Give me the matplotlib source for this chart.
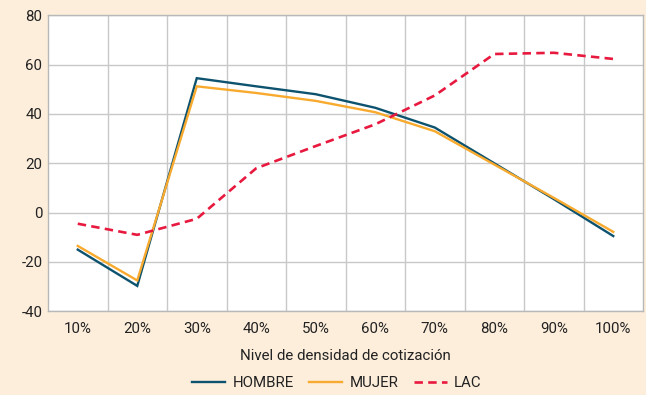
import matplotlib
matplotlib.use("Agg")
import matplotlib.pyplot as plt
from matplotlib import font_manager

categories = ["10%", "20%", "30%", "40%", "50%", "60%", "70%", "80%", "90%", "100%"]
hombre = [-15.0, -29.7, 54.5, 51.2, 48.0, 42.5, 34.5, 20.0, 5.5, -9.5]
mujer = [-13.5, -27.5, 51.2, 48.5, 45.3, 40.7, 33.0, 19.5, 6.0, -7.8]
lac = [-4.5, -9.0, -2.5, 18.0, 27.0, 35.8, 47.5, 64.3, 64.8, 62.3]
y_ticks = [-40, -20, 0, 20, 40, 60, 80]

names = {f.name for f in font_manager.fontManager.ttflist}
fam = [f for f in ["Liberation Sans Narrow", "Roboto", "DejaVu Sans"] if f in names]
plt.rcParams['font.family'] = fam

FS = 10.8
BG = "#fdeedc"
fig = plt.figure(figsize=(6.46, 3.95), dpi=100, facecolor=BG)
ax = fig.add_axes([0.0743, 0.2119, 0.9211, 0.7494])
ax.set_facecolor("white")

x = list(range(len(categories)))
l1, = ax.plot(x, hombre, color="#0d526e", lw=1.7, label="HOMBRE", solid_joinstyle="miter")
l2, = ax.plot(x, mujer, color="#f8aa2e", lw=1.7, label="MUJER", solid_joinstyle="miter")
l3, = ax.plot(x, lac, color="#e8193f", lw=1.9, ls=(0, (3.2, 2.0)), label="LAC")

ax.set_xlim(-0.5, len(categories) - 0.5)
ax.set_ylim(-40, 80)
ax.set_yticks(y_ticks)
ax.set_yticklabels([str(v) for v in y_ticks])
ax.set_xticks(x)
ax.set_xticklabels(categories)
ax.set_xticks([i + 0.5 for i in range(len(categories) - 1)], minor=True)

ax.grid(True, axis="y", which="major", color="#c8c8c8", lw=1.0)
ax.grid(True, axis="x", which="minor", color="#c8c8c8", lw=1.0)
ax.set_axisbelow(True)
ax.tick_params(axis="both", which="both", length=0, labelsize=FS, colors="#222222")
ax.tick_params(axis="x", pad=8)
ax.tick_params(axis="y", pad=4)
for s in ax.spines.values():
    s.set_color("#b8b8b8")
    s.set_linewidth(1.0)

ax.set_xlabel("Nivel de densidad de cotización", fontsize=FS, color="#222222", labelpad=9)

fig.legend(handles=[l1, l2, l3], loc="center", bbox_to_anchor=(337 / 646, 1 - 383 / 395),
           ncol=3, frameon=False, fontsize=FS, handlelength=2.2, columnspacing=1.0,
           handletextpad=0.5, labelcolor="#222222")

fig.savefig("out.png", dpi=100, facecolor=BG)
